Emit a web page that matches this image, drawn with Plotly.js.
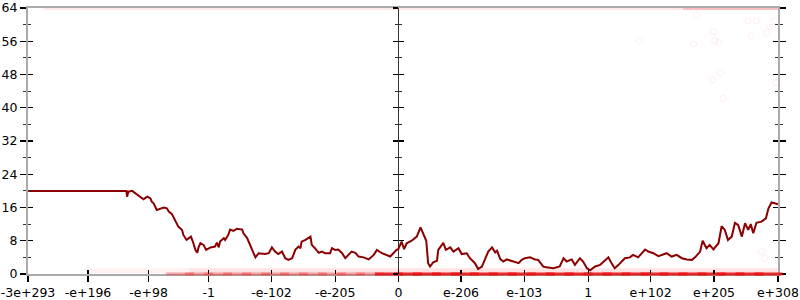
<!DOCTYPE html>
<html><head><meta charset="utf-8">
<script src="https://cdn.plot.ly/plotly-3.0.1.min.js"></script>
<style>html,body{margin:0;padding:0;background:#fff}#chart{width:800px;height:300px}</style>
</head><body><div id="chart"></div><script>
// x axis: a custom symmetric scale, tick positions in axis units with their labels
const tickPos  = [-5.855, -4.907, -3.949, -2.998, -2.006, -1.0, 0, 0.99, 1.99, 3.0, 3.987, 4.99, 6.0];
const tickText = ['-3e+293','-e+196','-e+98','-1','-e-102','-e-205','0','e-206','e-103','1','e+102','e+205','e+308'];
const yTicks = [0, 8, 16, 24, 32, 40, 48, 56, 64];

// main series
const lineX = [-5.855,-4.30,-4.29,-4.27,-4.21,-4.16,-4.08,-4.03,-3.97,-3.92,-3.90,-3.87,-3.82,-3.76,-3.71,-3.66,-3.63,-3.58,-3.53,-3.48,-3.42,-3.40,-3.35,-3.32,-3.28,-3.25,-3.21,-3.18,-3.16,-3.13,-3.08,-3.04,-2.97,-2.90,-2.87,-2.84,-2.82,-2.76,-2.74,-2.69,-2.66,-2.61,-2.55,-2.47,-2.45,-2.39,-2.34,-2.29,-2.26,-2.21,-2.11,-2.05,-2.00,-1.95,-1.90,-1.84,-1.79,-1.74,-1.68,-1.63,-1.58,-1.55,-1.53,-1.47,-1.39,-1.37,-1.32,-1.26,-1.21,-1.16,-1.08,-1.05,-1.00,-0.95,-0.89,-0.84,-0.79,-0.74,-0.68,-0.63,-0.55,-0.47,-0.39,-0.34,-0.26,-0.18,-0.13,-0.08,-0.03,0.00,0.05,0.09,0.13,0.21,0.29,0.35,0.39,0.44,0.47,0.50,0.55,0.61,0.63,0.69,0.71,0.75,0.82,0.87,0.95,1.00,1.08,1.13,1.21,1.26,1.32,1.37,1.42,1.48,1.53,1.56,1.61,1.66,1.71,1.82,1.90,1.95,2.00,2.08,2.16,2.21,2.29,2.34,2.45,2.55,2.61,2.66,2.74,2.79,2.87,2.92,2.98,3.03,3.11,3.19,3.27,3.32,3.37,3.42,3.48,3.53,3.58,3.66,3.71,3.79,3.90,3.95,4.03,4.11,4.16,4.24,4.32,4.40,4.48,4.56,4.64,4.69,4.77,4.81,4.87,4.92,4.98,5.06,5.11,5.16,5.21,5.27,5.32,5.37,5.43,5.48,5.53,5.57,5.61,5.66,5.74,5.81,5.85,5.90,5.95,6.00];
const lineY = [20,20,18.6,19.8,20.0,19.4,18.6,18.0,18.6,18.2,17.4,17.0,15.4,15.65,16.0,15.8,15.0,14.4,13.0,11.4,10.6,9.4,8.2,8.6,9.0,7.8,5.8,5.1,6.4,7.4,7.0,5.8,6.4,6.6,7.55,6.4,7.8,8.6,8.2,9.4,10.7,10.35,10.9,10.7,9.8,8.6,7.0,5.0,4.0,5.0,4.8,5.0,6.4,5.4,4.8,5.4,3.8,3.4,3.8,5.8,6.6,6.2,7.8,8.2,9.0,7.0,6.2,5.1,5.4,5.0,5.0,6.2,5.8,5.9,5.0,3.8,4.6,5.4,5.1,4.2,4.0,3.5,4.6,5.8,5.0,4.6,4.2,5.0,5.8,6.0,7.8,6.0,7.4,8.0,9.0,11.2,9.8,8.0,2.6,1.8,2.8,3.2,5.8,7.0,7.5,5.8,6.4,5.4,6.2,4.8,5.0,3.8,2.6,1.2,1.8,3.6,5.4,6.4,5.2,5.6,3.6,3.0,3.5,3.0,2.6,3.4,3.8,4.0,3.5,3.4,1.8,1.6,1.4,1.8,3.8,3.0,3.5,2.2,3.8,3.0,1.4,0.9,1.8,2.2,3.4,4.0,2.6,1.4,2.2,3.0,3.8,4.0,4.6,4.0,5.9,5.4,5.0,4.3,4.6,5.0,4.2,4.6,3.8,3.5,3.4,4.0,5.4,8.0,6.2,7.0,5.9,7.4,11.5,10.6,8.2,9.0,12.3,11.8,9.0,12.2,10.6,12.0,9.8,12.3,12.6,13.4,15.8,17.2,17.0,16.8];

// faint scattered samples along the bottom and top edges
const lowFaintX = [-4.9, -3.3];   const lowFaintY = [0.8, 0.8];
const lowBandX  = [-3.3, 6.0];    const lowBandY  = [0.8, 0.8];
const baseMidX  = [-3.45,-3.15,-2.85,-2.55,-2.25,-1.95,-1.65,-1.35,-1.05,-0.75,-0.45];
const baseHiX   = [-0.15,0.15,0.45,0.75,1.05,1.35,1.65,1.95,2.25,2.55,2.85,3.15,3.45,3.75,4.05,4.35,4.65,4.95,5.25,5.55,5.85];
const topBandX  = [-5.6, 6.0];    const topBandY  = [64, 64];
const topHiX    = [4.5, 6.0];     const topHiY    = [64, 64];
const dotsX = [5.53,5.66,5.87,5.82,5.58,4.98,5.00,5.06,4.67,3.81,4.71,5.95,5.09,4.97,5.13,5.97,5.79,5.74];
const dotsY = [60.9,60.9,59.4,57.9,57.3,58.3,56.1,55.7,55.3,56.1,62.3,61.0,48.4,46.7,42.3,46.0,3.8,5.4];

const seg = (x, y, color, w) => ({x, y, type:'scatter', mode:'lines', line:{color, width:w}, hoverinfo:'skip', showlegend:false});
const baseTicks = (x, color) => ({x, y:x.map(() => 0), type:'scatter', mode:'markers', cliponaxis:false,
  marker:{symbol:'line-ew', size:20, color, line:{color, width:3}}, hoverinfo:'skip', showlegend:false});
const dummy = (xa, ya) => ({x:[lineX[0]], y:[lineY[0]], xaxis:xa, yaxis:ya, type:'scatter', mode:'markers', marker:{opacity:0}, hoverinfo:'skip', showlegend:false});

const data = [
  seg(lowFaintX, lowFaintY, 'rgba(255,80,80,0.08)', 5),
  seg(lowBandX, lowBandY, 'rgba(255,60,60,0.15)', 5),
  seg(topBandX, topBandY, 'rgba(255,70,70,0.13)', 4),
  seg(topHiX, topHiY, 'rgba(240,50,50,0.22)', 4),
  {x:dotsX, y:dotsY, type:'scatter', mode:'markers', marker:{symbol:'circle-open', size:6, color:'rgba(255,40,40,0.08)', line:{width:1}}, hoverinfo:'skip', showlegend:false},
  {x:lineX, y:lineY, type:'scatter', mode:'lines', line:{color:'#8b0000', width:2}, showlegend:false},
  dummy('x2','y2'), dummy('x','y3'), dummy('x','y4'),
  {...baseTicks(baseMidX, 'rgba(235,60,60,0.45)'), xaxis:'x2', yaxis:'y2'},
  {...baseTicks(baseHiX, 'rgba(232,20,20,0.9)'), xaxis:'x2', yaxis:'y2'}
];

const tf = {family:'DejaVu Sans', size:12.5, color:'#000'};
const xr = [-5.856, 6.001];
const midPos = (0 - xr[0]) / (xr[1] - xr[0]);
const layout = {
  width:800, height:300,
  margin:{l:28, r:22, t:8, b:26},
  paper_bgcolor:'#fff', plot_bgcolor:'#fff',
  font:{family:'DejaVu Sans', size:12.5, color:'#000'},
  showlegend:false,
  xaxis:{range:xr, tickmode:'array', tickvals:tickPos, ticktext:tickText, ticks:'outside', ticklen:6, tickwidth:1.3, tickcolor:'#000',
         showline:true, linecolor:'#aaa', linewidth:2, mirror:true, showgrid:false, zeroline:true, zerolinecolor:'#333', zerolinewidth:1,
         tickfont:tf, tickangle:0, layer:'below traces'},
  xaxis2:{overlaying:'x', matches:'x', anchor:'y2', side:'bottom', tickmode:'array', tickvals:tickPos, ticks:'inside', ticklen:4, tickwidth:1.3, tickcolor:'#000',
          showticklabels:false, showline:false, showgrid:false, zeroline:false},
  yaxis:{range:[0,64], tickmode:'array', tickvals:yTicks, ticks:'outside', ticklen:6, tickwidth:1.3, tickcolor:'#000',
         showline:true, linecolor:'#aaa', linewidth:2, mirror:'allticks', showgrid:false, zeroline:false, tickfont:tf,
         minor:{dtick:4, tick0:0, ticks:'outside', ticklen:3, tickwidth:1, tickcolor:'#333', showgrid:false}, layer:'below traces'},
  yaxis2:{overlaying:'y', matches:'y', anchor:'x2', side:'left', tickmode:'array', tickvals:yTicks, ticks:'inside', ticklen:5, tickwidth:1.3, tickcolor:'#000',
          showticklabels:false, showline:false, mirror:'allticks', showgrid:false, zeroline:false,
          minor:{dtick:4, tick0:0, ticks:'inside', ticklen:3, tickwidth:1, tickcolor:'#333', showgrid:false}},
  yaxis3:{overlaying:'y', matches:'y', anchor:'free', position:midPos, side:'left', tickmode:'array', tickvals:yTicks, ticks:'outside', ticklen:5, tickwidth:1.3, tickcolor:'#000',
          showticklabels:false, showline:false, showgrid:false, zeroline:false,
          minor:{dtick:4, tick0:0, ticks:'outside', ticklen:3, tickwidth:1, tickcolor:'#333', showgrid:false}},
  yaxis4:{overlaying:'y', matches:'y', anchor:'free', position:midPos, side:'left', tickmode:'array', tickvals:yTicks, ticks:'inside', ticklen:5, tickwidth:1.3, tickcolor:'#000',
          showticklabels:false, showline:false, showgrid:false, zeroline:false,
          minor:{dtick:4, tick0:0, ticks:'inside', ticklen:3, tickwidth:1, tickcolor:'#333', showgrid:false}}
};
Plotly.newPlot('chart', data, layout, {staticPlot:true, displayModeBar:false});
</script></body></html>
